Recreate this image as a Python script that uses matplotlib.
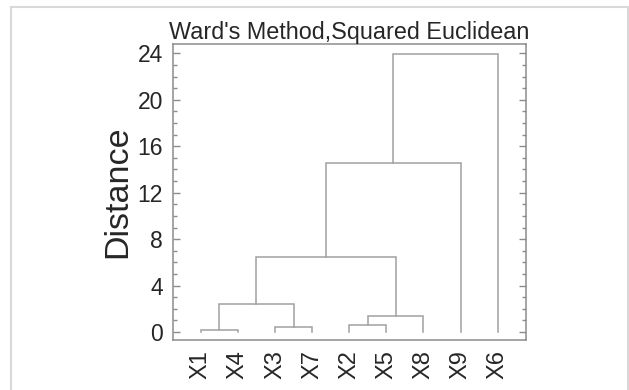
import numpy as np
import matplotlib.pyplot as plt
from matplotlib.lines import Line2D
from matplotlib.ticker import MultipleLocator

plt.rcParams['font.family'] = ['Liberation Sans', 'DejaVu Sans']

# leaves in dendrogram order
leaves = ['X1', 'X4', 'X3', 'X7', 'X2', 'X5', 'X8', 'X9', 'X6']
# merges: cluster ids 0..8 are leaves, each merge creates id 9, 10, ...
merge_left = [0, 2, 4, 11, 9, 13, 14, 15]
merge_right = [1, 3, 5, 6, 10, 12, 7, 8]
merge_height = [0.2, 0.4, 0.58, 1.41, 2.38, 6.45, 14.6, 23.95]

line_col = '#a0a0a0'
text_col = '#262626'

fig = plt.figure(figsize=(6.29, 3.90), dpi=100)
ax = fig.add_axes([0.2746, 0.128, 0.8358 - 0.2746, 0.887 - 0.128])

# positions and heights of each cluster
xpos = {i: i + 1.0 for i in range(len(leaves))}
ypos = {i: 0.0 for i in range(len(leaves))}
for k in range(len(merge_left)):
    a = merge_left[k]
    b = merge_right[k]
    h = merge_height[k]
    ax.plot([xpos[a], xpos[a], xpos[b], xpos[b]], [ypos[a], h, h, ypos[b]],
            color=line_col, lw=1.1, solid_joinstyle='miter')
    new = len(leaves) + k
    xpos[new] = (xpos[a] + xpos[b]) / 2
    ypos[new] = h

ax.set_xlim(0.245, 9.755)
ax.set_ylim(-0.69, 24.8)
ax.set_xticks(np.arange(1, len(leaves) + 1))
ax.set_xticklabels(leaves, rotation=90, fontsize=17, color=text_col)
ax.yaxis.set_major_locator(MultipleLocator(4))
ax.yaxis.set_minor_locator(MultipleLocator(1))
ax.tick_params(axis='x', length=0, pad=7)
ax.tick_params(axis='y', which='major', direction='in', length=5, width=1,
               color='#8c8c8c', labelsize=16.5, labelcolor=text_col, pad=7,
               left=True, right=True)
ax.tick_params(axis='y', which='minor', direction='in', length=3, width=1,
               color='#8c8c8c', left=True, right=True)
for s in ax.spines.values():
    s.set_color('#8c8c8c')
    s.set_linewidth(1.1)

ax.set_ylabel('Distance', fontsize=24.5, color=text_col, labelpad=3)
ax.set_title("Ward's Method,Squared Euclidean", fontsize=16.8, color=text_col, pad=3)

# outer frame
W, H = 629.0, 390.0
fr = '#d9d9d9'
fig.add_artist(Line2D([11 / W, 11 / W], [0, 1 - 7 / H], color=fr, lw=1.5, transform=fig.transFigure))
fig.add_artist(Line2D([11 / W, 627.5 / W], [1 - 7 / H, 1 - 7 / H], color=fr, lw=1.5, transform=fig.transFigure))
fig.add_artist(Line2D([627.5 / W, 627.5 / W], [0, 1 - 7 / H], color=fr, lw=1.5, transform=fig.transFigure))

fig.savefig('out.png', dpi=100)
